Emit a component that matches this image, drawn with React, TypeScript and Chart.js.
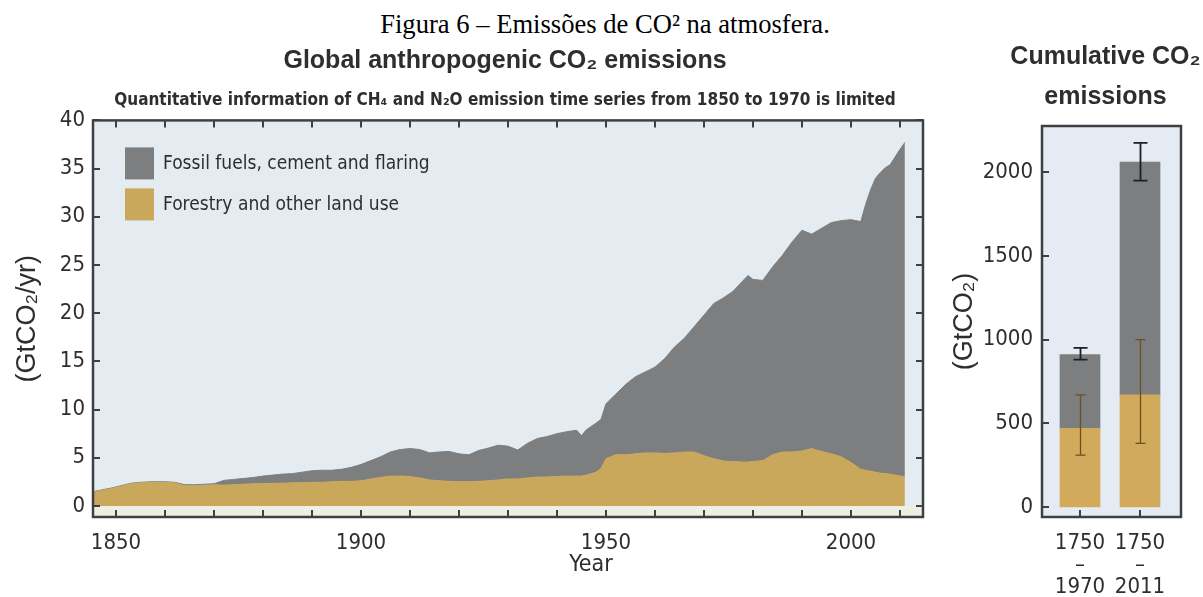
import React, { useEffect, useRef } from 'react';
import { Chart, registerables } from 'chart.js';

Chart.register(...registerables);

// Annual emissions, GtCO2/yr
const years = [
  1845, 1847, 1849, 1851, 1853, 1855, 1857, 1860, 1862, 1864, 1866, 1868, 1870, 1872, 1874, 1876, 1878, 1880,
  1882, 1884, 1886, 1888, 1890, 1892, 1894, 1896, 1898, 1900, 1902, 1904, 1906, 1908, 1910, 1912, 1914, 1916,
  1918, 1920, 1922, 1924, 1926, 1928, 1930, 1932, 1934, 1936, 1938, 1940, 1942, 1944, 1945, 1946, 1948, 1949,
  1950, 1952, 1954, 1956, 1958, 1960, 1962, 1964, 1966, 1968, 1970, 1972, 1974, 1976, 1978, 1979, 1980, 1982,
  1984, 1986, 1988, 1990, 1992, 1994, 1996, 1998, 2000, 2002, 2003, 2004, 2005, 2006, 2007, 2008, 2009, 2010,
  2011,
];

const landUse = [
  1.4, 1.6, 1.8, 2.05, 2.3, 2.4, 2.45, 2.45, 2.4, 2.1, 2.1, 2.15, 2.2, 2.15, 2.2, 2.25, 2.3, 2.3,
  2.35, 2.35, 2.4, 2.4, 2.45, 2.45, 2.5, 2.55, 2.55, 2.6, 2.8, 2.95, 3.1, 3.1, 3.05, 2.9, 2.7, 2.6,
  2.55, 2.5, 2.5, 2.55, 2.6, 2.7, 2.8, 2.8, 2.9, 3.0, 3.0, 3.05, 3.1, 3.1, 3.1, 3.2, 3.5, 3.9,
  4.9, 5.3, 5.3, 5.4, 5.5, 5.5, 5.45, 5.5, 5.6, 5.6, 5.2, 4.9, 4.65, 4.6, 4.55, 4.55, 4.6, 4.7,
  5.3, 5.6, 5.6, 5.7, 5.95, 5.65, 5.4, 5.1, 4.5, 3.8, 3.7, 3.6, 3.5, 3.4, 3.35, 3.3, 3.2, 3.1,
  3.05,
];

const fossilFuels = [
  0.05, 0.05, 0.05, 0.05, 0.05, 0.05, 0.05, 0.05, 0.05, 0.1, 0.1, 0.1, 0.1, 0.5, 0.55, 0.6, 0.65, 0.8,
  0.85, 0.95, 0.95, 1.1, 1.2, 1.25, 1.2, 1.25, 1.45, 1.7, 1.9, 2.15, 2.5, 2.75, 2.9, 2.95, 2.8, 3.0,
  3.1, 2.9, 2.8, 3.2, 3.4, 3.6, 3.4, 3.0, 3.6, 4.0, 4.2, 4.45, 4.6, 4.75, 4.2, 4.7, 5.1, 5.1,
  5.7, 6.3, 7.3, 8.0, 8.4, 8.9, 9.85, 11.0, 11.8, 13.0, 14.6, 16.1, 16.95, 17.7, 18.85, 19.35, 18.9, 18.7,
  19.5, 20.4, 21.8, 22.9, 22.25, 23.15, 24.0, 24.5, 25.2, 25.7, 27.6, 29.2, 30.5, 31.2, 31.75, 32.1, 33.0, 33.9,
  34.65,
];

const labelledYears = [1850, 1900, 1950, 2000];

// Cumulative emissions, GtCO2
const periodPositions = [1, 2];
const periodLabels = [
  ['1750', '–', '1970'],
  ['1750', '–', '2011'],
];
const cumulativeTicks = [0, 500, 1000, 1500, 2000];
const cumulativeLand = [470, 670];
const cumulativeFossil = [440, 1390];
const cumulativeTotalRange = [
  [880, 950],
  [1950, 2175],
];
const cumulativeLandRange = [
  [310, 670],
  [380, 1000],
];

const SANS = "'Liberation Sans', Arial, sans-serif";
const NARROW = "'DejaVu Sans Condensed', 'Liberation Sans Narrow', 'Liberation Sans', sans-serif";
const TEXT = '#2e2e2e';
const GREY = '#7c7e7f';
const OCHRE = '#c9a75b';
const BAR_OCHRE = '#d2aa5b';
const FRAME = '#3e4143';

type FrameOptions = {
  background: string;
  zeroStrip?: string;
  topTicks: boolean;
  rightTicks: boolean;
  bottomTicks: boolean;
};

// Panel background, outer frame and inward-pointing tick marks
function framePlugin(id: string, o: FrameOptions) {
  return {
    id,
    beforeDatasetsDraw(chart: any) {
      const { ctx, chartArea: a, scales } = chart;
      ctx.save();
      ctx.fillStyle = o.background;
      ctx.fillRect(a.left, a.top, a.right - a.left, a.bottom - a.top);
      if (o.zeroStrip) {
        const y0 = scales.y.getPixelForValue(0);
        ctx.fillStyle = o.zeroStrip;
        ctx.fillRect(a.left, y0, a.right - a.left, a.bottom - y0);
      }
      ctx.restore();
    },
    afterDatasetsDraw(chart: any) {
      const { ctx, chartArea: a, scales } = chart;
      const xs = scales.x;
      const ys = scales.y;
      const len = 7;
      ctx.save();
      ctx.strokeStyle = FRAME;
      ctx.lineWidth = 2;
      ctx.beginPath();
      xs.ticks.forEach((t: any) => {
        const px = Math.round(xs.getPixelForValue(t.value));
        if (o.bottomTicks) {
          ctx.moveTo(px, a.bottom);
          ctx.lineTo(px, a.bottom - len);
        }
        if (o.topTicks) {
          ctx.moveTo(px, a.top);
          ctx.lineTo(px, a.top + len);
        }
      });
      ys.ticks.forEach((t: any) => {
        const py = Math.round(ys.getPixelForValue(t.value));
        ctx.moveTo(a.left, py);
        ctx.lineTo(a.left + len, py);
        if (o.rightTicks) {
          ctx.moveTo(a.right, py);
          ctx.lineTo(a.right - len, py);
        }
      });
      ctx.stroke();
      ctx.lineWidth = 2.5;
      ctx.strokeRect(a.left, a.top, a.right - a.left, a.bottom - a.top);
      ctx.restore();
    },
  };
}

// Legend boxes drawn inside the plot area, top-left
const insideLegend = {
  id: 'insideLegend',
  afterDatasetsDraw(chart: any) {
    const { ctx, chartArea: a } = chart;
    const items = [...chart.data.datasets].reverse();
    ctx.save();
    ctx.font = `19px ${NARROW}`;
    ctx.textBaseline = 'middle';
    ctx.textAlign = 'left';
    items.forEach((ds: any, i: number) => {
      const top = a.top + 27 + i * 41;
      ctx.fillStyle = ds.backgroundColor;
      ctx.fillRect(a.left + 32, top, 29, 32);
      ctx.fillStyle = TEXT;
      ctx.fillText(ds.label, a.left + 70, top + 17);
    });
    ctx.restore();
  },
};

// Horizontal axis caption of the annual panel
const yearCaption = {
  id: 'yearCaption',
  afterDraw(chart: any) {
    const { ctx, chartArea: a } = chart;
    ctx.save();
    ctx.font = `23px ${NARROW}`;
    ctx.fillStyle = TEXT;
    ctx.textAlign = 'center';
    ctx.textBaseline = 'middle';
    ctx.fillText('Year', a.left + 0.6 * (a.right - a.left), a.bottom + 48);
    ctx.restore();
  },
};

// Two-line heading above the cumulative panel
const cumulativeHeading = {
  id: 'cumulativeHeading',
  afterDraw(chart: any) {
    const { ctx, chartArea: a } = chart;
    const cx = (a.left + a.right) / 2 - 6;
    ctx.save();
    ctx.font = `bold 25px ${SANS}`;
    ctx.fillStyle = TEXT;
    ctx.textAlign = 'center';
    ctx.textBaseline = 'middle';
    ctx.fillText('Cumulative CO₂', cx, a.top - 69);
    ctx.fillText('emissions', cx, a.top - 29);
    ctx.restore();
  },
};

function drawRange(ctx: any, x: number, yLow: number, yHigh: number, color: string, width: number, cap: number) {
  ctx.strokeStyle = color;
  ctx.lineWidth = width;
  ctx.beginPath();
  ctx.moveTo(x, yLow);
  ctx.lineTo(x, yHigh);
  ctx.moveTo(x - cap, yLow);
  ctx.lineTo(x + cap, yLow);
  ctx.moveTo(x - cap, yHigh);
  ctx.lineTo(x + cap, yHigh);
  ctx.stroke();
}

// Uncertainty ranges on the cumulative bars
const rangeBars = {
  id: 'rangeBars',
  afterDatasetsDraw(chart: any) {
    const { ctx, scales } = chart;
    const xs = scales.x;
    const ys = scales.y;
    ctx.save();
    periodPositions.forEach((p, i) => {
      const cx = Math.round(xs.getPixelForValue(p)) + 0.5;
      drawRange(
        ctx, cx,
        ys.getPixelForValue(cumulativeLandRange[i][0]),
        ys.getPixelForValue(cumulativeLandRange[i][1]),
        '#6a4f1f', 1.3, 5,
      );
      drawRange(
        ctx, cx,
        ys.getPixelForValue(cumulativeTotalRange[i][0]),
        ys.getPixelForValue(cumulativeTotalRange[i][1]),
        '#1f1f1f', 1.8, 7,
      );
    });
    ctx.restore();
  },
};

export default function App() {
  const annualRef = useRef<HTMLCanvasElement | null>(null);
  const cumulativeRef = useRef<HTMLCanvasElement | null>(null);

  useEffect(() => {
    document.body.style.margin = '0';
    const annual = new Chart(annualRef.current as HTMLCanvasElement, {
      type: 'line',
      data: {
        datasets: [
          {
            label: 'Forestry and other land use',
            data: years.map((yr, i) => ({ x: yr, y: landUse[i] })),
            xAxisID: 'x',
            yAxisID: 'y',
            backgroundColor: OCHRE,
            borderColor: OCHRE,
            borderWidth: 1,
            pointRadius: 0,
            fill: 'origin',
            tension: 0,
          },
          {
            label: 'Fossil fuels, cement and flaring',
            data: years.map((yr, i) => ({ x: yr, y: fossilFuels[i] })),
            xAxisID: 'x',
            yAxisID: 'y',
            backgroundColor: GREY,
            borderColor: GREY,
            borderWidth: 1,
            pointRadius: 0,
            fill: '-1',
            tension: 0,
          },
        ],
      },
      options: {
        animation: false,
        responsive: false,
        maintainAspectRatio: false,
        events: [],
        layout: { padding: 0 },
        plugins: {
          legend: { display: false },
          tooltip: { enabled: false },
          title: {
            display: true,
            text: 'Global anthropogenic CO₂ emissions',
            color: TEXT,
            font: { family: SANS, size: 25, weight: 'bold', lineHeight: 1.2 },
            padding: { top: 46, bottom: 0 },
          },
          subtitle: {
            display: true,
            text: 'Quantitative information of CH₄ and N₂O emission time series from 1850 to 1970 is limited',
            color: TEXT,
            font: { family: NARROW, size: 17, weight: 'bold', lineHeight: 1.2 },
            padding: { top: 14, bottom: 10 },
          },
        },
        scales: {
          x: {
            type: 'linear',
            min: 1845.3,
            max: 2014.7,
            grid: { display: false, drawTicks: false },
            border: { display: false },
            ticks: {
              stepSize: 10,
              includeBounds: false,
              autoSkip: false,
              maxRotation: 0,
              padding: 13,
              color: TEXT,
              font: { family: NARROW, size: 22, lineHeight: 1.2 },
              callback: (v: any) => (labelledYears.includes(Number(v)) ? String(v) : ''),
            },
            afterFit: (s: any) => {
              s.height = 80;
            },
          },
          y: {
            stacked: true,
            min: -1.15,
            max: 40,
            grid: { display: false, drawTicks: false },
            border: { display: false },
            ticks: {
              stepSize: 5,
              includeBounds: false,
              padding: 8,
              color: TEXT,
              font: { family: NARROW, size: 22 },
            },
            title: {
              display: true,
              text: '(GtCO₂/yr)',
              color: TEXT,
              font: { family: SANS, size: 27, lineHeight: 1.2 },
              padding: { top: 11.8, bottom: 0 },
            },
            afterFit: (s: any) => {
              s.width = 93;
            },
          },
          yRight: {
            position: 'right',
            grid: { display: false, drawTicks: false },
            border: { display: false },
            ticks: { display: false },
            afterFit: (s: any) => {
              s.width = 87;
            },
          },
        },
      },
      plugins: [
        framePlugin('annualFrame', {
          background: '#e5ecf1',
          zeroStrip: '#eeeee3',
          topTicks: true,
          rightTicks: true,
          bottomTicks: true,
        }),
        insideLegend,
        yearCaption,
      ],
    } as any);

    const cumulative = new Chart(cumulativeRef.current as HTMLCanvasElement, {
      type: 'bar',
      data: {
        datasets: [
          {
            label: 'Forestry and other land use',
            data: periodPositions.map((p, i) => ({ x: p, y: cumulativeLand[i] })),
            xAxisID: 'x',
            yAxisID: 'y',
            backgroundColor: BAR_OCHRE,
            barThickness: 40,
          },
          {
            label: 'Fossil fuels, cement and flaring',
            data: periodPositions.map((p, i) => ({ x: p, y: cumulativeFossil[i] })),
            xAxisID: 'x',
            yAxisID: 'y',
            backgroundColor: GREY,
            barThickness: 40,
          },
        ],
      },
      options: {
        animation: false,
        responsive: false,
        maintainAspectRatio: false,
        events: [],
        layout: { padding: { left: 0, right: 22, top: 126, bottom: 0 } },
        plugins: {
          legend: { display: false },
          tooltip: { enabled: false },
          title: { display: false },
        },
        scales: {
          x: {
            type: 'linear',
            stacked: true,
            offset: false,
            min: 0.3667,
            max: 2.6833,
            grid: { display: false, drawTicks: false, offset: false },
            border: { display: false },
            afterBuildTicks: (s: any) => {
              s.ticks = periodPositions.map((v) => ({ value: v }));
            },
            ticks: {
              autoSkip: false,
              maxRotation: 0,
              padding: 15,
              color: TEXT,
              font: { family: NARROW, size: 22, lineHeight: 1.0 },
              callback: (v: any) => {
                const i = periodPositions.indexOf(Number(v));
                return i >= 0 ? periodLabels[i] : '';
              },
            },
            afterFit: (s: any) => {
              s.height = 80;
            },
          },
          y: {
            stacked: true,
            beginAtZero: false,
            min: -60,
            max: 2276,
            grid: { display: false, drawTicks: false },
            border: { display: false },
            afterBuildTicks: (s: any) => {
              s.ticks = cumulativeTicks.map((v) => ({ value: v }));
            },
            ticks: {
              padding: 9,
              color: TEXT,
              font: { family: NARROW, size: 22 },
              callback: (v: any) => String(v),
            },
            title: {
              display: true,
              text: '(GtCO₂)',
              color: TEXT,
              font: { family: SANS, size: 27, lineHeight: 1.2 },
              padding: { top: 8.8, bottom: 0 },
            },
            afterFit: (s: any) => {
              s.width = 102;
            },
          },
        },
      },
      plugins: [
        framePlugin('cumulativeFrame', {
          background: '#e4ebf3',
          topTicks: false,
          rightTicks: false,
          bottomTicks: true,
        }),
        rangeBars,
        cumulativeHeading,
      ],
    } as any);

    return () => {
      annual.destroy();
      cumulative.destroy();
    };
  }, []);

  return (
    <div style={{ position: 'relative', width: 1203, height: 597, background: '#ffffff', overflow: 'hidden' }}>
      <div
        style={{
          position: 'absolute',
          left: 0,
          top: 9,
          width: 1210,
          height: 30,
          lineHeight: '30px',
          textAlign: 'center',
          fontFamily: "'Liberation Serif', 'Times New Roman', serif",
          fontSize: 26.6,
          color: '#000',
        }}
      >
        Figura 6 – Emissões de CO² na atmosfera.
      </div>
      <canvas
        ref={annualRef}
        width={1010}
        height={597}
        style={{ position: 'absolute', left: 0, top: 0, width: 1010, height: 597 }}
      />
      <canvas
        ref={cumulativeRef}
        width={263}
        height={597}
        style={{ position: 'absolute', left: 940, top: 0, width: 263, height: 597 }}
      />
    </div>
  );
}
